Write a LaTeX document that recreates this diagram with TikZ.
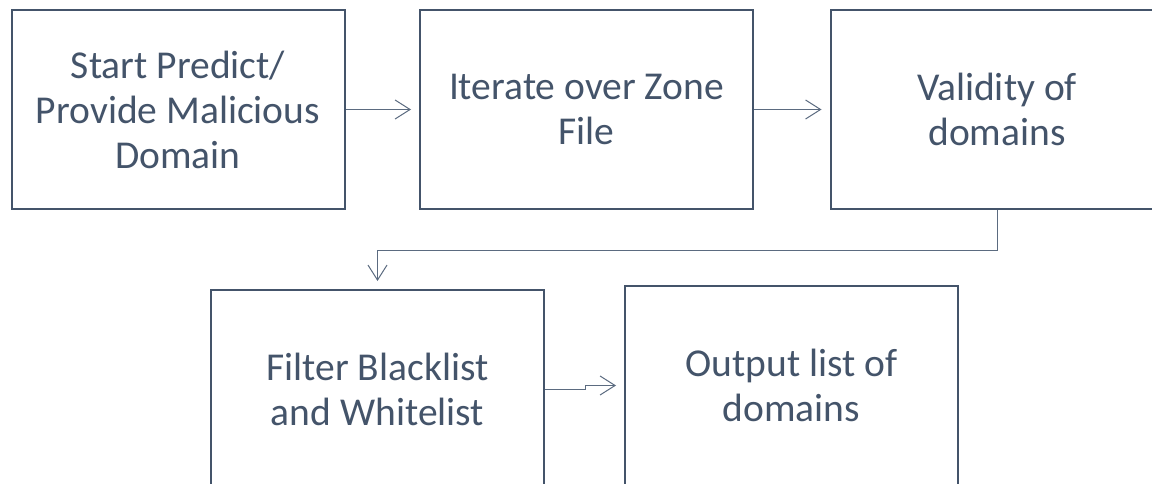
\documentclass[tikz,border=0pt]{standalone}
\usepackage{fontspec}
\setmainfont{Carlito}
\usepackage{tikz}
\usetikzlibrary{arrows.meta}
\definecolor{slate}{HTML}{44546A}
\definecolor{slatel}{HTML}{5B6B80}

\begin{document}
\begin{tikzpicture}[x=1pt,y=1pt,
  block/.style={draw=slate,line width=2pt,minimum width=333pt,minimum height=199pt,
    align=center,text=slate,font=\fontsize{39.5}{45}\selectfont,inner sep=0pt},
  conn/.style={draw=slatel,line width=1pt,-{Straight Barb[length=15pt,width=19pt]},shorten >=8pt}]
\clip (0,0) rectangle (1152,-484);
\fill[white] (0,0) rectangle (1152,-484);
%Блоки
\node[block] (start) at (178,-109.5) {Start Predict/\\Provide Malicious\\Domain};
\node[block] (iter) at (586.5,-109.5) {Iterate over Zone\\File};
\node[block] (valid) at (997,-109.5) {Validity of\\domains};
\node[block] (filter) at (377.5,-389.5) {Filter Blacklist\\and Whitelist};
\node[block] (out) at (791.5,-385.5) {Output list of\\domains};
%Стрелки
\draw[conn] (start.east) -- (iter.west);
\draw[conn] (iter.east) -- (valid.west);
\draw[conn] (valid.south) -- ++(0,-40) -| (filter.north);
\draw[conn] (filter.east) -- ++(40,0) |- (out.west);
\end{tikzpicture}
\end{document}
